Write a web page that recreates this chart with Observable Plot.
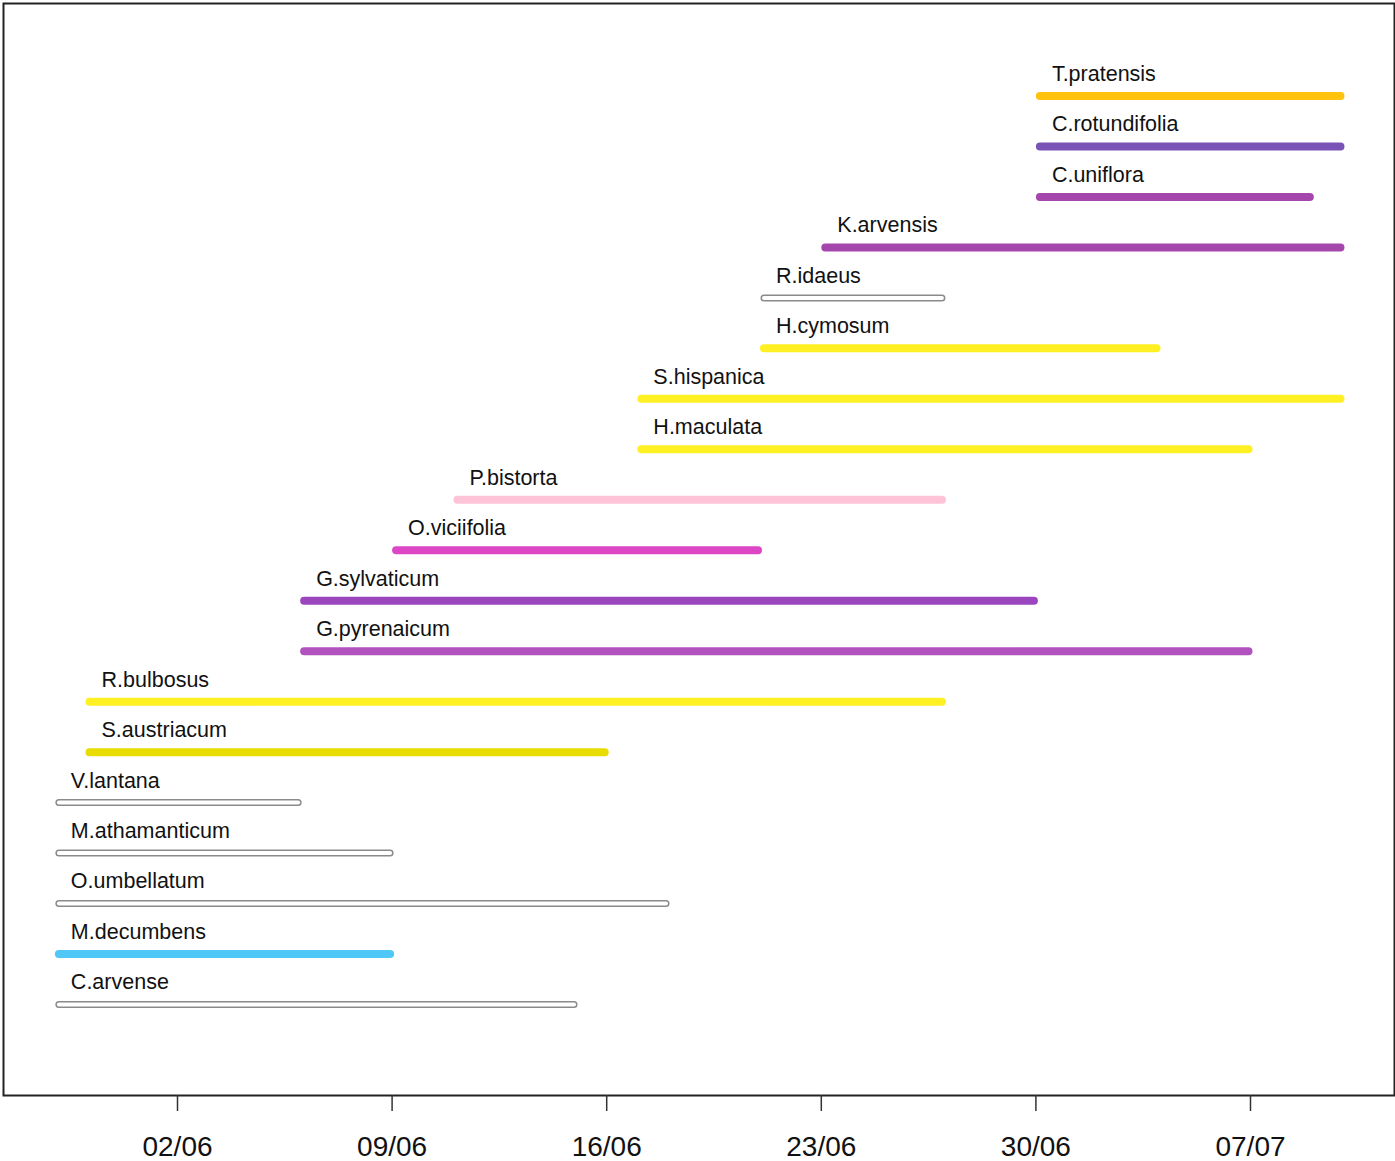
<!DOCTYPE html>
<html>
<head>
<meta charset="utf-8">
<script src="https://cdn.jsdelivr.net/npm/d3@7"></script>
<script src="https://cdn.jsdelivr.net/npm/@observablehq/plot@0.6"></script>
<style>
  html, body { margin: 0; padding: 0; background: #fff; }
  #chart svg { display: block; }
</style>
</head>
<body>
<div id="chart"></div>
<script>
// Species, top to bottom
const species = ["T.pratensis","C.rotundifolia","C.uniflora","K.arvensis","R.idaeus","H.cymosum","S.hispanica","H.maculata","P.bistorta","O.viciifolia","G.sylvaticum","G.pyrenaicum","R.bulbosus","S.austriacum","V.lantana","M.athamanticum","O.umbellatum","M.decumbens","C.arvense"];
// Flowering start and end dates (dd/mm)
const startDates = ["30/06","30/06","30/06","23/06","21/06","21/06","17/06","17/06","11/06","09/06","06/06","06/06","30/05","30/05","29/05","29/05","29/05","29/05","29/05"];
const endDates   = ["10/07","10/07","09/07","10/07","27/06","04/07","10/07","07/07","27/06","21/06","30/06","07/07","27/06","16/06","06/06","09/06","18/06","09/06","15/06"];
// Bar colours (null = open outline bar)
const colors = ["#ffc20e","#7953b5","#a546ad","#a546ad",null,"#fff023","#fff023","#fff023","#ffc3d8","#dd47c6","#9b46bf","#b152bf","#fff023","#e9dc00",null,null,null,"#4fc8f8",null];
// Axis tick labels
const tickLabels = ["02/06","09/06","16/06","23/06","30/06","07/07"];

const parse = s => d3.utcParse("%d/%m/%Y")(s + "/2019");
const data = species.map((name, i) => ({
  name, start: parse(startDates[i]), end: parse(endDates[i]), color: colors[i]
}));
const filled = data.filter(d => d.color);
const open = data.filter(d => !d.color);
const ticks = tickLabels.map(parse);

const bar = { y: "name", x1: "start", x2: "end", strokeLinecap: "round", dx: 1.5, insetLeft: 3, insetRight: 3 };

const chart = Plot.plot({
  width: 1395,
  height: 1161,
  marginLeft: 3,
  marginRight: 1,
  marginTop: 3,
  marginBottom: 66,
  style: { fontFamily: "'Liberation Sans', Arial, sans-serif", background: "#fff" },
  x: { type: "utc", domain: [ticks[0], ticks[5]], range: [177, 1250] },
  y: { type: "point", domain: species, range: [95.5, 1004], padding: 0, round: false, axis: null },
  marks: [
    Plot.frame({ stroke: "#222", strokeWidth: 2 }),
    Plot.ruleY(filled, { ...bar, stroke: d => d.color, strokeWidth: 8 }),
    Plot.ruleY(open, { ...bar, stroke: "#8a8a8a", strokeWidth: 7 }),
    Plot.ruleY(open, { ...bar, stroke: "#fff", strokeWidth: 4 }),
    Plot.text(data, { y: "name", x: "start", text: "name", dx: 16, dy: -22, textAnchor: "start", fontSize: 21.5, fill: "#111", style: "letter-spacing:0.8px" }),
    Plot.axisX({ ticks, tickFormat: d3.utcFormat("%d/%m"), tickSize: 16, tickPadding: 25, fontSize: 28, stroke: "#333", strokeWidth: 1.5, fill: "#111", label: null })
  ]
});
document.getElementById("chart").append(chart);
</script>
</body>
</html>
